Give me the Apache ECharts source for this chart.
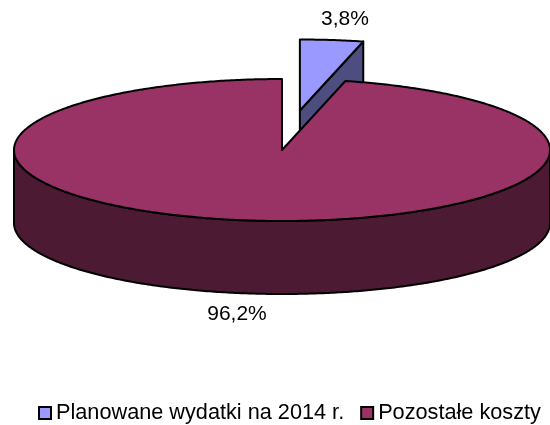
<!DOCTYPE html>
<html>
<head>
<meta charset="utf-8">
<script src="https://cdn.jsdelivr.net/npm/echarts/dist/echarts.min.js"></script>
<style>
  html, body { margin: 0; padding: 0; background: #fff; }
  #chart { width: 550px; height: 425px; }
</style>
</head>
<body>
<div id="chart"></div>
<script>
// dane
var categories = ['Planowane wydatki na 2014 r.', 'Pozostałe koszty'];
var values = [3.8, 96.2];
var exploded = [1, 0];
var topColors = ['#9999FF', '#993366'];
var sideColors = ['#4D4D80', '#4D1A33'];

var FONT = '"Liberation Sans", Arial, sans-serif';
var chart = echarts.init(document.getElementById('chart'));

// geometria "3D" tortu
var cx = 282, cy = 150, rx = 268, ry = 71, depth = 73;

function fmt(v) {
  return v.toFixed(1).replace('.', ',') + '%';
}

function renderSlice(params, api) {
  var a0 = api.value(1) * 2 * Math.PI;
  var a1 = api.value(2) * 2 * Math.PI;
  var mid = (a0 + a1) / 2;
  var k = api.value(3) * 0.56; // wysunięcie kawałka
  var ox = k * rx * Math.sin(mid), oy = -k * ry * Math.cos(mid);
  var fill = topColors[params.seriesIndex], side = sideColors[params.seriesIndex];
  var line = { stroke: '#000', lineWidth: 2, lineJoin: 'round' };

  function pt(a, d) {
    return [cx + ox + rx * Math.sin(a), cy + oy - ry * Math.cos(a) + (d || 0)];
  }
  function arc(from, to, d) {
    var pts = [], n = Math.max(2, Math.ceil(Math.abs(to - from) / 0.01));
    for (var i = 0; i <= n; i++) pts.push(pt(from + (to - from) * i / n, d));
    return pts;
  }
  var c = [cx + ox, cy + oy], cb = [cx + ox, cy + oy + depth];
  var children = [];

  // ściany promieniowe
  if (Math.sin(a0) < -1e-6) {
    children.push({ type: 'polygon', shape: { points: [c, pt(a0), pt(a0, depth), cb] },
      style: Object.assign({ fill: side }, line) });
  }
  if (Math.sin(a1) > 1e-6) {
    children.push({ type: 'polygon', shape: { points: [c, pt(a1), pt(a1, depth), cb] },
      style: Object.assign({ fill: side }, line) });
  }
  // ściana boczna (przód)
  var f0 = Math.max(a0, Math.PI / 2), f1 = Math.min(a1, 1.5 * Math.PI);
  if (f1 > f0) {
    var sp = arc(f0, f1, 0).concat(arc(f1, f0, depth));
    children.push({ type: 'polygon', shape: { points: sp },
      style: Object.assign({ fill: side }, line) });
  }
  // wierzch
  children.push({ type: 'polygon', shape: { points: [c].concat(arc(a0, a1, 0)) },
    style: Object.assign({ fill: fill }, line) });

  // etykieta
  var front = Math.cos(mid) < 0;
  var rim = pt(mid, front ? depth : 0);
  children.push({
    type: 'text',
    style: {
      text: fmt(api.value(0)),
      x: rim[0] + 110 * Math.sin(mid),
      y: rim[1] - 21 * Math.cos(mid),
      fill: '#000',
      font: '21px ' + FONT,
      align: 'center',
      verticalAlign: 'middle'
    }
  });
  return { type: 'group', children: children };
}

var total = values.reduce(function (a, b) { return a + b; }, 0);
var cum = 0;
var series = categories.map(function (name, i) {
  var start = cum / total;
  cum += values[i];
  return {
    type: 'custom',
    name: name,
    coordinateSystem: 'none',
    silent: true,
    itemStyle: { color: topColors[i] },
    data: [[values[i], start, cum / total, exploded[i]]],
    renderItem: renderSlice
  };
});

chart.setOption({
  animation: false,
  legend: {
    data: categories,
    left: 38,
    top: 402,
    padding: 0,
    icon: 'rect',
    itemWidth: 12,
    itemHeight: 12,
    itemGap: 16,
    itemStyle: { borderColor: '#000', borderWidth: 2 },
    textStyle: { fontSize: 21.7, color: '#000', fontFamily: FONT }
  },
  series: series
});
</script>
</body>
</html>
